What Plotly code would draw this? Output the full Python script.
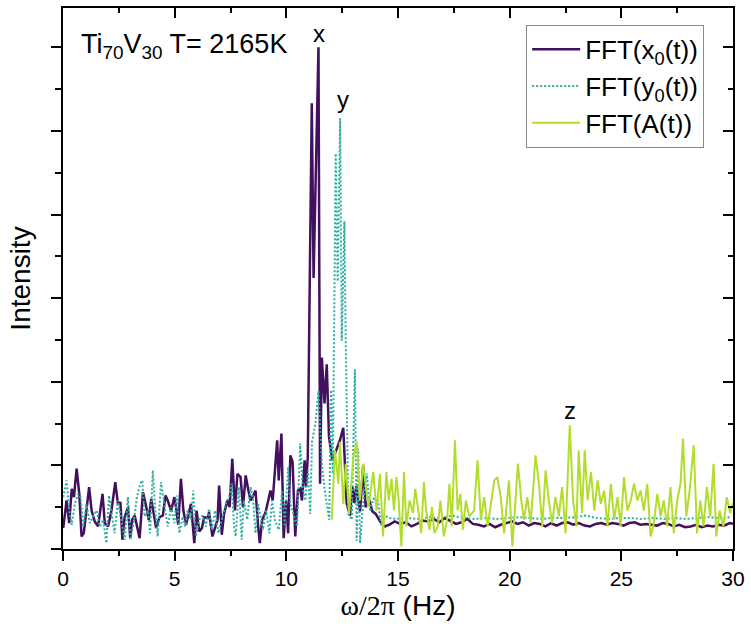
import plotly.graph_objects as go

# ---------------- data ----------------
x0_freq = [0.01,0.16,0.28,0.39,0.49,0.61,0.73,0.83,0.93,1.02,1.17,1.28,1.42,1.57,1.77,1.87,2.02,2.17,2.34,2.46,
           2.57,2.66,2.76,2.91,3.01,3.10,3.21,3.43,3.58,3.70,3.84,3.95,4.10,4.17,4.32,4.47,4.59,4.69,4.84,4.99,
           5.06,5.16,5.28,5.39,5.51,5.65,5.73,5.88,5.98,6.10,6.22,6.32,6.47,6.54,6.69,6.92,6.99,7.11,7.21,7.36,
           7.46,7.58,7.70,7.81,7.95,8.06,8.18,8.30,8.40,8.52,8.62,8.74,8.81,8.92,9.07,9.19,9.29,9.39,9.48,9.59,
           9.66,9.78,9.88,9.99,10.08,10.18,10.28,10.40,10.52,10.62,10.70,10.82,10.88,10.96,11.14,11.22,11.44,11.51,11.59,11.71,
           11.81,11.91,12.06,12.25,12.40,12.55,12.70,12.85,12.95,13.05,13.13,13.30,13.44,13.55,13.70,13.85,14.00,14.20,14.41,
           14.60,14.85,15.10,15.35,15.60,15.85,16.10,16.35,16.60,16.85,17.10,17.35,17.60,17.85,18.10,18.35,18.60,18.85,19.10,19.35,
           19.60,19.85,20.10,20.35,20.60,20.85,21.10,21.35,21.60,21.85,22.10,22.35,22.60,22.85,23.10,23.35,23.60,23.85,24.10,24.35,
           24.60,24.85,25.10,25.35,25.60,25.85,26.10,26.35,26.60,26.85,27.10,27.35,27.60,27.85,28.10,28.35,28.60,28.85,29.10,29.35,
           29.60,29.85,30.00]
x0_int = [0.25,0.58,0.31,0.72,0.62,0.96,0.66,0.15,0.19,0.42,0.74,0.46,0.33,0.27,0.66,0.31,0.27,0.46,0.80,0.54,
          0.56,0.11,0.38,0.50,0.13,0.35,0.40,0.13,0.68,0.54,0.35,0.60,0.38,0.25,0.38,0.40,0.64,0.58,0.46,0.62,
          0.50,0.29,0.84,0.46,0.29,0.46,0.54,0.07,0.46,0.21,0.25,0.38,0.37,0.44,0.15,0.35,0.76,0.17,0.42,0.58,
          0.50,1.08,0.46,0.90,0.86,0.50,0.88,0.70,0.58,0.64,0.70,0.27,0.07,0.35,0.44,0.58,0.70,0.58,0.86,1.30,
          0.82,1.38,0.13,0.58,0.19,1.12,1.04,0.15,0.70,0.72,0.58,1.06,0.74,1.10,5.33,3.24,6.00,0.78,2.29,1.74,
          2.21,1.34,1.06,1.20,1.30,1.45,0.55,0.40,0.75,0.55,0.75,0.45,1.00,0.50,0.60,0.45,0.42,0.33,0.27,
          0.29,0.33,0.30,0.32,0.27,0.30,0.34,0.33,0.36,0.32,0.37,0.33,0.30,0.32,0.36,0.30,0.29,0.27,0.30,0.26,
          0.29,0.31,0.33,0.30,0.32,0.28,0.31,0.30,0.27,0.31,0.28,0.31,0.32,0.29,0.31,0.28,0.27,0.30,0.31,0.29,
          0.31,0.30,0.28,0.31,0.32,0.29,0.30,0.29,0.28,0.31,0.30,0.27,0.29,0.26,0.27,0.29,0.26,0.28,0.27,0.29,
          0.28,0.31,0.30]

y0_freq = [0.01,0.16,0.28,0.39,0.53,0.68,0.79,0.91,1.05,1.20,1.35,1.50,1.65,1.80,1.94,2.06,2.17,2.31,2.46,2.61,
           2.76,2.91,3.01,3.16,3.31,3.46,3.55,3.65,3.80,3.90,4.02,4.14,4.24,4.39,4.54,4.69,4.84,4.99,5.09,5.21,
           5.36,5.48,5.58,5.73,5.83,5.95,6.10,6.25,6.40,6.54,6.66,6.81,6.96,7.14,7.29,7.43,7.55,7.66,7.73,7.88,
           8.00,8.10,8.25,8.40,8.50,8.62,8.74,8.84,8.95,9.10,9.24,9.36,9.48,9.66,9.81,9.93,10.08,10.18,10.33,10.48,
           10.62,10.73,10.85,10.97,11.07,11.15,11.30,11.44,11.59,11.74,11.92,12.00,12.08,12.21,12.30,12.41,12.48,12.60,12.66,12.78,
           12.93,13.07,13.15,13.22,13.30,13.44,13.60,13.75,13.90,14.10,14.25,14.40,14.60,
           14.90,15.40,15.90,16.40,16.90,17.40,17.90,18.40,18.90,19.40,19.90,20.40,20.90,21.40,21.90,22.40,22.90,23.40,23.90,24.40,
           24.90,25.40,25.90,26.40,26.90,27.40,27.90,28.40,28.90,29.40,29.90]
y0_int = [0.62,0.82,0.46,0.29,0.54,0.66,0.62,0.27,0.54,0.31,0.39,0.46,0.27,0.35,0.07,0.64,0.43,0.19,0.58,0.35,
          0.11,0.62,0.11,0.31,0.62,0.78,0.82,0.39,0.46,0.19,0.94,0.43,0.15,0.80,0.54,0.27,0.50,0.31,0.64,0.19,
          0.39,0.27,0.46,0.35,0.70,0.15,0.35,0.40,0.27,0.48,0.23,0.46,0.19,0.40,0.54,0.62,0.78,0.27,0.15,0.74,
          0.11,0.58,0.35,0.74,0.62,0.19,0.54,0.39,0.23,0.46,0.19,0.58,0.35,0.23,0.70,0.27,0.98,0.54,0.39,0.27,
          1.26,0.74,0.58,0.94,0.42,1.28,1.50,1.89,1.02,0.66,0.35,1.90,0.90,4.73,3.20,5.15,2.49,3.92,2.49,0.42,
          0.35,2.15,0.10,1.20,0.07,0.55,0.90,0.45,0.60,0.58,0.27,0.40,0.37,
          0.36,0.37,0.36,0.38,0.37,0.40,0.37,0.36,0.37,0.36,0.37,0.38,0.37,0.36,0.37,0.37,0.38,0.40,0.37,0.36,
          0.37,0.37,0.36,0.37,0.36,0.37,0.36,0.37,0.38,0.37,0.38]

a_freq = [12.03,12.18,12.33,12.40,12.55,12.66,12.81,13.00,13.15,13.30,13.44,13.67,13.89,
          14.04,14.19,14.33,14.48,14.59,14.71,14.82,14.93,15.03,15.15,15.27,15.37,15.52,15.67,15.77,15.89,16.04,16.16,
          16.26,16.41,16.52,16.63,16.78,16.90,17.05,17.20,17.30,17.41,17.55,17.67,17.79,17.90,18.04,18.19,18.41,18.56,
          18.71,18.86,19.01,19.16,19.31,19.45,19.60,19.75,19.97,20.12,20.23,20.37,20.52,20.64,20.79,20.94,21.16,21.31,
          21.46,21.61,21.75,21.90,22.05,22.20,22.35,22.50,22.69,22.84,22.99,23.09,23.24,23.36,23.49,23.64,23.79,23.94,
          24.08,24.23,24.38,24.53,24.68,24.83,24.97,25.12,25.27,25.42,25.57,25.72,25.86,26.01,26.16,26.31,26.46,26.61,
          26.76,26.90,27.05,27.20,27.35,27.50,27.65,27.76,27.91,28.06,28.24,28.39,28.54,28.68,28.83,28.98,29.13,29.25,
          29.40,29.57,29.72,29.87,30.00]
a_int = [0.35,1.18,0.78,1.28,0.54,1.02,0.42,1.10,1.28,0.58,1.02,0.50,0.92,
         0.46,0.90,0.15,0.92,0.58,0.84,0.46,0.86,0.58,0.03,0.92,0.27,0.58,0.43,0.72,0.50,0.19,0.80,
         0.46,0.23,0.50,0.19,0.27,0.58,0.15,0.35,0.78,0.27,1.30,0.46,0.66,0.23,0.58,0.39,0.46,1.06,
         0.35,0.62,0.27,0.54,0.82,0.86,0.62,0.19,0.82,0.03,0.43,1.02,0.58,0.35,0.62,0.31,1.12,0.78,
         0.27,0.94,0.58,0.31,0.62,0.39,0.74,0.19,1.48,0.58,0.27,1.18,0.43,1.18,0.58,0.92,0.46,0.82,
         0.54,0.70,0.27,0.78,0.35,0.62,0.27,0.86,0.46,0.58,0.78,0.58,0.70,0.46,0.78,0.15,0.31,0.66,
         0.39,0.58,0.27,0.74,0.19,0.58,0.78,1.32,0.39,0.70,1.24,0.19,0.58,0.27,0.74,0.39,1.02,0.15,
         0.46,0.27,0.62,0.43,0.55]

names = ["FFT(x<sub>0</sub>(t))", "FFT(y<sub>0</sub>(t))", "FFT(A(t))"]
colors = ["#43105f", "#2fae9f", "#b3dd2e"]

peak_labels = ["x", "y", "z"]
peak_pos = [(11.48, 6.17), (12.52, 5.37), (22.68, 1.66)]

title_text = "Ti<sub>70</sub>V<sub>30</sub> T= 2165K"
x_ticks = [0, 5, 10, 15, 20, 25, 30]

X_RANGE = [0, 30]
Y_RANGE = [0, 6.47]
FONT = "Liberation Sans, Arial, sans-serif"

fig = go.Figure()
fig.add_trace(go.Scatter(x=x0_freq, y=x0_int, mode="lines", name=names[0], legendgroup="a",
                         line=dict(color=colors[0], width=2.5)))
fig.add_trace(go.Scatter(x=y0_freq, y=y0_int, mode="lines", name=names[1], legendgroup="b",
                         line=dict(color=colors[1], width=2, dash="2px,2px")))
# A(t) lives on a second subplot occupying the same area with identical ranges;
# that subplot's axes provide the inward ticks on the top and right edges.
fig.add_trace(go.Scatter(x=a_freq, y=a_int, mode="lines", name=names[2], legendgroup="c",
                         xaxis="x2", yaxis="y2", line=dict(color=colors[2], width=2)))

for lab, (px, py) in zip(peak_labels, peak_pos):
    fig.add_annotation(x=px, y=py, text=lab, showarrow=False, xref="x", yref="y",
                       font=dict(size=24, color="black", family=FONT))

fig.add_annotation(x=0.024, y=0.93, xref="paper", yref="paper", xanchor="left", yanchor="middle",
                   text=title_text, showarrow=False, font=dict(size=27, color="black", family=FONT))

fig.update_layout(
    width=751, height=641,
    margin=dict(l=63, r=14, t=6, b=92),
    paper_bgcolor="white", plot_bgcolor="rgba(0,0,0,0)",
    font=dict(family=FONT, color="black"),
    showlegend=True,
    legend=dict(x=0.957, xanchor="right", y=0.969, yanchor="top",
                bordercolor="#8a8a8a", borderwidth=1, bgcolor="white",
                font=dict(size=26, family=FONT), tracegroupgap=0, traceorder="grouped",
                itemwidth=48),
    xaxis=dict(domain=[0, 1], range=X_RANGE, tickvals=x_ticks, ticks="outside", ticklen=10, tickwidth=2,
               tickcolor="black", showline=True, linewidth=2, linecolor="black", mirror=True,
               showgrid=False, zeroline=False, tickfont=dict(size=21, family=FONT),
               minor=dict(dtick=2.5, ticks="outside", ticklen=5, tickwidth=2, tickcolor="black"),
               title=dict(text='<span style="font-family:Liberation Serif">ω/2π</span> (Hz)',
                          font=dict(size=28, family=FONT), standoff=0)),
    yaxis=dict(domain=[0, 1], range=Y_RANGE, dtick=1, tick0=0, ticks="outside", ticklen=10, tickwidth=2,
               tickcolor="black", showline=True, linewidth=2, linecolor="black", mirror=True,
               showgrid=False, zeroline=False, showticklabels=False,
               minor=dict(dtick=0.5, ticks="outside", ticklen=6, tickwidth=2, tickcolor="black"),
               title=dict(text="Intensity", font=dict(size=28, family=FONT), standoff=12)),
    xaxis2=dict(domain=[0, 1], anchor="y2", side="top", range=X_RANGE, tick0=0, dtick=5,
                ticks="inside", ticklen=10, tickwidth=2, tickcolor="black",
                showticklabels=False, showgrid=False, zeroline=False, showline=False,
                minor=dict(dtick=2.5, ticks="inside", ticklen=5, tickwidth=2, tickcolor="black")),
    yaxis2=dict(domain=[0, 1], anchor="x2", side="right", range=Y_RANGE, tick0=0, dtick=1,
                ticks="inside", ticklen=10, tickwidth=2, tickcolor="black",
                showticklabels=False, showgrid=False, zeroline=False, showline=False,
                minor=dict(dtick=0.5, ticks="inside", ticklen=5, tickwidth=2, tickcolor="black")),
)

fig.write_html("out.html")
